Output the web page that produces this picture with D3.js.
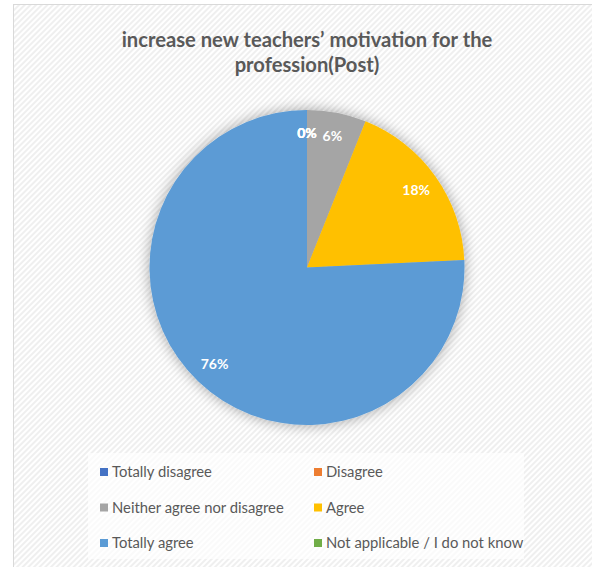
<!DOCTYPE html>
<html><head><meta charset="utf-8">
<script src="https://cdn.jsdelivr.net/npm/d3@7"></script>
<style>html,body{margin:0;padding:0;background:#fff;}svg{display:block;}</style>
</head><body>
<svg id="c" width="592" height="567"></svg>
<script>
const titleLines = ["increase new teachers\u2019 motivation for the", "profession(Post)"];
const categories = ["Totally disagree", "Disagree", "Neither agree nor disagree", "Agree", "Totally agree", "Not applicable / I do not know"];
const counts = [0, 0, 2, 6, 25, 0];
const colors = ["#4472C4", "#ED7D31", "#A5A5A5", "#FFC000", "#5B9BD5", "#70AD47"];

const svg = d3.select("#c");
const W = 592, H = 567;
const FONT = "Lato, 'Open Sans', sans-serif";

const defs = svg.append("defs");
const pat = defs.append("pattern").attr("id","hatch").attr("patternUnits","userSpaceOnUse")
  .attr("width",4).attr("height",4).attr("patternTransform","rotate(45)");
pat.append("rect").attr("width",4).attr("height",4).attr("fill","#ffffff");
pat.append("rect").attr("width",2).attr("height",4).attr("fill","#efefef");
const flt = defs.append("filter").attr("id","shadow").attr("x","-30%").attr("y","-30%").attr("width","160%").attr("height","160%");
flt.append("feGaussianBlur").attr("in","SourceAlpha").attr("stdDeviation",7).attr("result","b");
flt.append("feOffset").attr("in","b").attr("dx",0).attr("dy",0).attr("result","o");
flt.append("feComponentTransfer").attr("in","o").attr("result","s")
  .append("feFuncA").attr("type","linear").attr("slope",0.35);
const fm = flt.append("feMerge");
fm.append("feMergeNode").attr("in","s");
fm.append("feMergeNode").attr("in","SourceGraphic");

// chart area
svg.append("rect").attr("x",13.5).attr("y",4.5).attr("width",W).attr("height",H)
  .attr("fill","url(#hatch)").attr("stroke","#d9d9d9").attr("stroke-width",1);

// title
const title = svg.append("text").attr("text-anchor","middle").attr("fill","#595959")
  .attr("font-family",FONT).attr("font-weight","bold").attr("font-size",18);
titleLines.forEach((t,i)=>{
  title.append("tspan").attr("x",307).attr("y",47 + i*25).text(t);
});
const t0 = title.select("tspan").node().getComputedTextLength();
title.attr("font-size", 18 * 371 / t0);

// pie
const cx = 307, cy = 267.5, R = 157.5;
const total = d3.sum(counts);
const pie = d3.pie().sort(null).value(d=>d)(counts);
const arc = d3.arc().innerRadius(0).outerRadius(R);
const g = svg.append("g").attr("transform",`translate(${cx},${cy})`);
g.append("g").attr("filter","url(#shadow)").selectAll("path").data(pie).enter()
  .append("path").attr("d",arc).attr("fill",(d,i)=>colors[i]);
const labelArc = d3.arc().innerRadius(134).outerRadius(134);
g.selectAll("text.lbl").data(pie).enter().append("text").attr("class","lbl")
  .attr("transform",d=>`translate(${labelArc.centroid(d)})`)
  .attr("text-anchor","middle").attr("dy","0.35em")
  .attr("fill","#ffffff").attr("font-family",FONT).attr("font-weight","bold").attr("font-size",14)
  .text(d=>Math.round(d.value/total*100)+"%");

// legend
const lg = svg.append("g");
lg.append("rect").attr("x",88).attr("y",453).attr("width",436).attr("height",106)
  .attr("fill","#ffffff").attr("opacity",0.65);
const colX = [100, 314], rowY = [472, 507.5, 543];
categories.forEach((c,i)=>{
  const x = colX[i%2], y = rowY[Math.floor(i/2)];
  lg.append("rect").attr("x",x).attr("y",y-4).attr("width",8).attr("height",8).attr("fill",colors[i]);
  lg.append("text").attr("x",x+12).attr("y",y).attr("dy","0.35em")
    .attr("fill","#595959").attr("font-family",FONT).attr("font-size",14.8).text(c);
});
</script>
</body></html>
